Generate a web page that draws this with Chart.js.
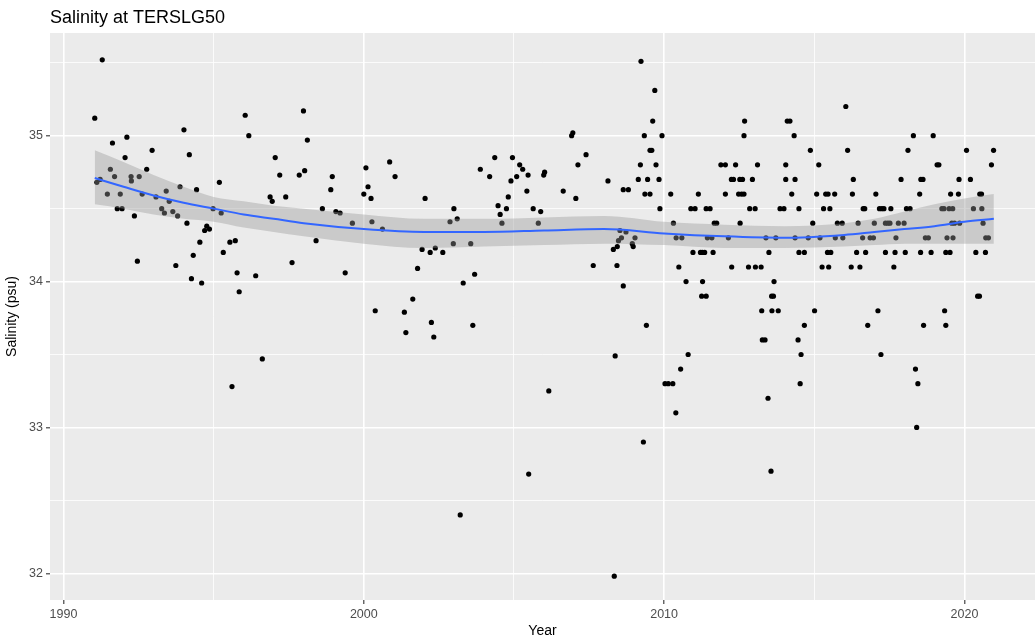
<!DOCTYPE html>
<html><head><meta charset="utf-8">
<script src="https://cdn.jsdelivr.net/npm/chart.js@4.4.1/dist/chart.umd.min.js"></script>
<style>html,body{margin:0;padding:0;background:#fff;}#wrap{width:1035px;height:642px;position:relative;}</style>
</head><body><div id="wrap"><canvas id="c" width="1035" height="642"></canvas></div>
<script>
// Observations 1991-2009 as [year, salinity]
const earlySamples = [
[1991.04,35.12],[1991.29,35.52],[1991.63,34.95],[1991.11,34.68],[1991.22,34.70],[1991.46,34.60],[1991.56,34.77],
[1991.70,34.72],[1991.79,34.50],[1991.89,34.60],[1991.95,34.50],[1992.05,34.85],[1992.11,34.99],[1992.25,34.72],
[1992.26,34.69],[1992.36,34.45],[1992.46,34.14],[1992.52,34.72],[1992.62,34.60],[1992.77,34.77],[1992.95,34.90],
[1993.08,34.58],[1993.27,34.50],[1993.36,34.47],[1993.42,34.62],[1993.52,34.55],[1993.64,34.48],[1993.74,34.11],
[1993.80,34.45],[1993.88,34.65],[1994.01,35.04],[1994.11,34.40],[1994.19,34.87],[1994.26,34.02],[1994.32,34.18],
[1994.43,34.63],[1994.54,34.27],[1994.60,33.99],[1994.70,34.35],[1994.77,34.38],[1994.86,34.36],[1994.98,34.50],
[1995.19,34.68],[1995.25,34.47],[1995.32,34.20],[1995.54,34.27],[1995.61,33.28],[1995.72,34.28],[1995.78,34.06],
[1995.85,33.93],[1996.05,35.14],[1996.17,35.00],[1996.40,34.04],[1996.62,33.47],[1996.88,34.58],[1996.95,34.55],
[1997.05,34.85],[1997.20,34.73],[1997.40,34.58],[1997.61,34.13],[1997.85,34.73],[1997.99,35.17],[1998.03,34.76],
[1998.12,34.97],[1998.41,34.28],[1998.62,34.50],[1998.90,34.63],[1998.95,34.72],[1999.07,34.48],[1999.21,34.47],
[1999.38,34.06],[1999.62,34.40],[2000.00,34.60],[2000.07,34.78],[2000.14,34.65],[2000.24,34.57],[2000.27,34.41],
[2000.38,33.80],[2000.62,34.36],[2000.86,34.82],[2001.04,34.72],[2001.35,33.79],[2001.40,33.65],[2001.63,33.88],
[2001.79,34.09],[2001.94,34.22],[2002.04,34.57],[2002.21,34.20],[2002.25,33.72],[2002.33,33.62],[2002.38,34.23],
[2002.63,34.20],[2002.87,34.41],[2002.98,34.26],[2003.00,34.50],[2003.11,34.43],[2003.21,32.40],[2003.31,33.99],
[2003.56,34.26],[2003.63,33.70],[2003.69,34.05],[2003.88,34.77],[2004.19,34.72],[2004.36,34.85],[2004.47,34.52],
[2004.54,34.46],[2004.60,34.40],[2004.75,34.50],[2004.81,34.58],[2004.90,34.69],[2004.95,34.85],[2005.09,34.72],
[2005.19,34.80],[2005.29,34.77],[2005.43,34.62],[2005.47,34.73],[2005.49,32.68],[2005.64,34.50],[2005.81,34.40],
[2005.89,34.48],[2005.99,34.73],[2006.02,34.75],[2006.16,33.25],[2006.64,34.62],[2006.92,35.00],[2006.96,35.02],
[2007.06,34.57],[2007.13,34.80],[2007.40,34.87],[2007.64,34.11],[2008.13,34.69],[2008.31,34.22],[2008.34,31.98],
[2008.37,33.49],[2008.43,34.11],[2008.44,34.24],[2008.48,34.28],[2008.53,34.35],[2008.58,34.30],[2008.64,33.97],
[2008.64,34.63],[2008.73,34.34],[2008.81,34.63],[2008.94,34.26],[2008.97,34.24],[2009.03,34.30],[2009.14,34.70],
[2009.21,34.80],[2009.23,35.51],[2009.31,32.90],[2009.34,35.00],[2009.41,33.70],[2009.45,34.70],[2009.36,34.60],
[2009.53,34.60],[2009.53,34.90],[2009.59,34.90],[2009.62,35.10],[2009.69,35.31],[2009.73,34.80],[2009.83,34.70],
[2009.86,34.50],[2009.93,35.00]
];
// Observations 2010-2021 (reported to 0.1 psu): level and the years at that level
const lateLevels = [35.2,35.1,35.0,34.9,34.8,34.7,34.6,34.5,34.4,34.3,34.2,34.1,34.0,33.9,33.8,33.7,33.6,33.5,33.4,33.3,33.2,33.1,33.0,32.7];
const lateYears = [
[2016.05],
[2012.68,2014.10,2014.19],
[2012.66,2014.33,2018.30,2018.96],
[2014.87,2016.11,2018.12,2020.07,2020.97],
[2011.89,2012.04,2012.38,2013.11,2014.05,2015.15,2019.09,2019.15,2020.90],
[2012.24,2012.31,2012.52,2012.61,2012.94,2014.05,2014.36,2016.30,2017.89,2018.55,2018.62,2019.82,2020.20],
[2010.22,2011.14,2012.04,2012.48,2012.58,2012.66,2014.25,2015.08,2015.38,2015.46,2015.68,2016.27,2017.05,2018.51,2019.54,2019.80,2020.51,2020.57],
[2010.89,2011.03,2011.40,2011.53,2012.85,2013.03,2013.86,2013.99,2014.49,2015.31,2015.52,2016.63,2016.68,2017.17,2017.25,2017.32,2017.55,2018.07,2018.19,2019.25,2019.32,2019.49,2019.61,2020.30,2020.58],
[2010.31,2011.67,2011.75,2012.53,2014.95,2015.77,2015.93,2016.46,2017.00,2017.37,2017.45,2017.52,2017.80,2017.99,2019.58,2019.67,2019.84,2020.62],
[2010.40,2010.59,2011.44,2011.59,2012.14,2013.39,2013.72,2014.36,2014.80,2015.19,2015.70,2015.95,2016.61,2016.86,2016.97,2017.72,2018.70,2018.80,2019.42,2019.62,2020.71,2020.80],
[2010.96,2011.21,2011.27,2011.35,2011.63,2013.49,2014.49,2014.67,2015.44,2015.55,2016.41,2016.71,2017.37,2017.69,2018.03,2018.54,2018.89,2019.38,2019.52,2020.38,2020.70],
[2010.49,2012.25,2012.81,2013.04,2013.23,2015.26,2015.48,2016.23,2016.52,2017.65],
[2010.73,2011.28,2013.66],
[2011.25,2011.40,2013.58,2013.64,2020.44,2020.50],
[2013.25,2013.59,2013.80,2015.01,2017.12,2019.34],
[2014.67,2016.78,2018.64,2019.38],
[2013.27,2013.36,2014.46],
[2010.80,2014.56,2017.22],
[2010.55,2018.37],
[2010.03,2010.14,2010.29,2014.53,2018.45],
[2013.46],
[2010.39],
[2018.41],
[2013.56]
];
// Loess smooth
const smoothYears = [1991.04,1992,1993,1994,1995,1996,1997,1998,2000,2002,2004,2006,2008,2010,2012,2014,2016,2017,2018,2019,2020,2020.98];
const smoothFit   = [34.71,34.65,34.59,34.54,34.50,34.46,34.43,34.40,34.36,34.34,34.34,34.35,34.36,34.33,34.31,34.30,34.32,34.34,34.36,34.38,34.41,34.43];
const smoothLower = [34.53,34.50,34.46,34.43,34.41,34.37,34.34,34.31,34.26,34.23,34.24,34.25,34.26,34.25,34.23,34.23,34.24,34.25,34.26,34.26,34.26,34.26];
const smoothUpper = [34.90,34.82,34.73,34.65,34.58,34.55,34.52,34.50,34.46,34.43,34.43,34.44,34.45,34.41,34.39,34.38,34.40,34.43,34.48,34.53,34.57,34.60];
// Axes
const xGridYears = [1990,1995,2000,2005,2010,2015,2020];
const xLabelYears = [1990,2000,2010,2020];
const yGridValues = [32,32.5,33,33.5,34,34.5,35,35.5];
const yLabelValues = [32,33,34,35];

const points = earlySamples.map(p => ({x: p[0], y: p[1]}));
lateLevels.forEach((lv, i) => lateYears[i].forEach(yr => points.push({x: yr, y: lv})));
const toXY = (xs, ys) => xs.map((x, i) => ({x, y: ys[i]}));

const FONT = '"Liberation Sans", Arial, sans-serif';
const panelBg = {
  id: 'panelBg',
  beforeDraw(chart) {
    const {ctx, chartArea: a} = chart;
    ctx.save(); ctx.fillStyle = '#EBEBEB';
    ctx.fillRect(a.left, a.top, a.right - a.left, a.bottom - a.top);
    ctx.restore();
  },
  afterDraw(chart) {
    const ctx = chart.ctx;
    ctx.save(); ctx.fillStyle = '#000'; ctx.font = '18px ' + FONT;
    ctx.textBaseline = 'alphabetic'; ctx.textAlign = 'left';
    ctx.fillText('Salinity at TERSLG50', 50, 23);
    ctx.restore();
  }
};

new Chart(document.getElementById('c'), {
  type: 'line',
  data: {
    datasets: [
      {label: 'fit', data: toXY(smoothYears, smoothFit), borderColor: '#3366FF', borderWidth: 2,
       pointRadius: 0, fill: false, cubicInterpolationMode: 'monotone', order: 0},
      {label: 'lower', data: toXY(smoothYears, smoothLower), borderWidth: 0, borderColor: 'rgba(0,0,0,0)',
       pointRadius: 0, fill: false, cubicInterpolationMode: 'monotone', order: 1},
      {label: 'upper', data: toXY(smoothYears, smoothUpper), borderWidth: 0, borderColor: 'rgba(0,0,0,0)',
       pointRadius: 0, fill: {target: 1}, backgroundColor: 'rgba(153,153,153,0.4)', cubicInterpolationMode: 'monotone', order: 1},
      {label: 'obs', data: points, showLine: false, pointRadius: 2.6, pointBorderWidth: 0,
       pointBackgroundColor: '#000', pointBorderColor: '#000', order: 5}
    ]
  },
  options: {
    responsive: false, animation: false, devicePixelRatio: 1,
    layout: {padding: {top: 33, left: 0, right: 0, bottom: 0}, autoPadding: false},
    plugins: {legend: {display: false}, tooltip: {enabled: false}, title: {display: false}},
    scales: {
      x: {
        type: 'linear', min: 1989.55, max: 2022.35,
        afterFit: s => { s.height = 42; },
        afterBuildTicks: s => { s.ticks = xGridYears.map(v => ({value: v})); },
        border: {display: false},
        grid: {
          color: '#FFFFFF', drawTicks: true, tickLength: 4, tickWidth: 1.1,
          lineWidth: c => (xLabelYears.includes(c.tick && c.tick.value) ? 1.6 : 0.8),
          tickColor: c => (xLabelYears.includes(c.tick && c.tick.value) ? '#333333' : 'rgba(0,0,0,0)')
        },
        ticks: {
          autoSkip: false, maxRotation: 0, padding: 3, color: '#4D4D4D', font: {family: FONT, size: 12.5},
          callback: v => (xLabelYears.includes(v) ? String(v) : '')
        },
        title: {display: true, text: 'Year', color: '#000', font: {family: FONT, size: 14}, padding: {top: 0, bottom: 2}}
      },
      y: {
        type: 'linear', min: 31.817, max: 35.704,
        afterFit: s => { s.width = 50; },
        afterBuildTicks: s => { s.ticks = yGridValues.map(v => ({value: v})); },
        border: {display: false},
        grid: {
          color: '#FFFFFF', drawTicks: true, tickLength: 4, tickWidth: 1.1,
          lineWidth: c => (yLabelValues.includes(c.tick && c.tick.value) ? 1.6 : 0.8),
          tickColor: c => (yLabelValues.includes(c.tick && c.tick.value) ? '#333333' : 'rgba(0,0,0,0)')
        },
        ticks: {
          autoSkip: false, padding: 3, color: '#4D4D4D', font: {family: FONT, size: 12.5},
          callback: v => (yLabelValues.includes(v) ? String(v) : '')
        },
        title: {display: true, text: 'Salinity (psu)', color: '#000', font: {family: FONT, size: 14}, padding: {top: 4, bottom: 0}}
      }
    }
  },
  plugins: [panelBg]
});
</script></body></html>
